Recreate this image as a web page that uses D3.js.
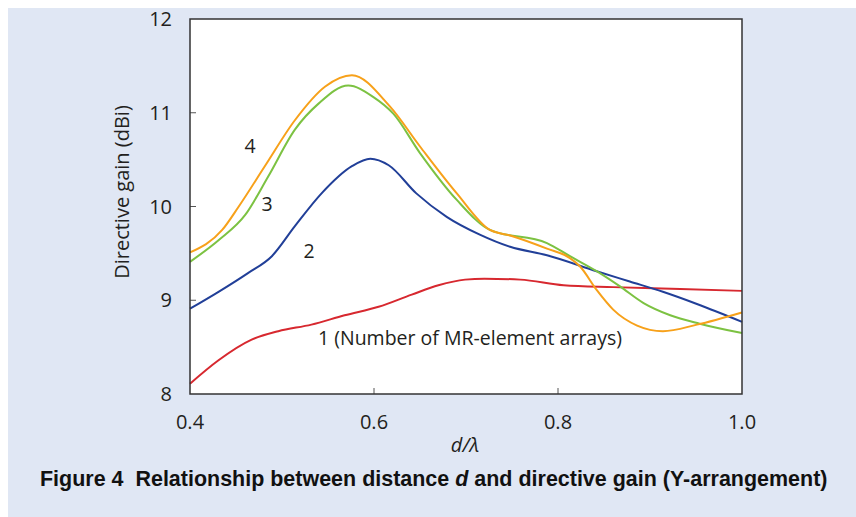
<!DOCTYPE html>
<meta charset="utf-8">
<head>
  <style>
    body { margin: 0; background: #ffffff; }
    .tick-label { font-family: "Open Sans", "Noto Sans", sans-serif; font-size: 20px; fill: #231f20; }
    .series-label { font-family: "Open Sans", "Noto Sans", sans-serif; font-size: 19.5px; fill: #231f20; }
    .caption { font-family: "Liberation Sans Narrow", "Liberation Sans", Arial; font-weight: bold; font-size: 22.5px; fill: #111; white-space: pre; }
  </style>
</head>
<script src="https://d3js.org/d3.v7.min.js"></script>
<div id="my_dataviz"></div>
<script>
const WIDTH = 856;
const HEIGHT = 517;

// values (d/lambda, dBi)
var dist1 = [0.4, 0.431, 0.467, 0.496, 0.532, 0.568, 0.605, 0.641, 0.67, 0.699, 0.72, 0.759, 0.806, 0.86, 0.933, 1.0];
var gain1 = [8.11, 8.36, 8.58, 8.67, 8.74, 8.84, 8.93, 9.06, 9.16, 9.22, 9.23, 9.22, 9.16, 9.14, 9.12, 9.10];

var dist2 = [0.4, 0.431, 0.463, 0.489, 0.514, 0.543, 0.576, 0.596, 0.616, 0.646, 0.679, 0.715, 0.748, 0.788, 0.842, 0.878, 0.914, 0.951, 1.0];
var gain2 = [8.91, 9.09, 9.29, 9.47, 9.79, 10.14, 10.43, 10.51, 10.44, 10.14, 9.89, 9.70, 9.57, 9.48, 9.31, 9.20, 9.09, 8.96, 8.77];

var dist3 = [0.4, 0.431, 0.46, 0.485, 0.514, 0.54, 0.572, 0.599, 0.621, 0.65, 0.69, 0.726, 0.788, 0.813, 0.842, 0.867, 0.893, 0.922, 0.954, 1.0];
var gain3 = [9.41, 9.64, 9.91, 10.32, 10.82, 11.10, 11.29, 11.17, 10.99, 10.57, 10.07, 9.75, 9.61, 9.47, 9.31, 9.15, 8.97, 8.84, 8.75, 8.65];

var dist4 = [0.4, 0.435, 0.453, 0.482, 0.514, 0.547, 0.576, 0.617, 0.65, 0.69, 0.726, 0.748, 0.788, 0.813, 0.824, 0.842, 0.86, 0.886, 0.914, 0.951, 1.0];
var gain4 = [9.51, 9.75, 10.00, 10.44, 10.92, 11.28, 11.40, 11.07, 10.64, 10.14, 9.75, 9.69, 9.55, 9.45, 9.36, 9.11, 8.90, 8.73, 8.67, 8.74, 8.87];

var seriesNames = ["1 (Number of MR-element arrays)", "2", "3", "4"];
var xTicks = [0.4, 0.6, 0.8, 1.0];
var yTicks = [8, 9, 10, 11, 12];

var series = [
  {name: seriesNames[0], dist: dist1, gain: gain1, color: "#d7282f", lx: 318, ly: 338, anchor: "start"},
  {name: seriesNames[1], dist: dist2, gain: gain2, color: "#213f98", lx: 309, ly: 251, anchor: "middle"},
  {name: seriesNames[2], dist: dist3, gain: gain3, color: "#7cc242", lx: 267, ly: 204, anchor: "middle"},
  {name: seriesNames[3], dist: dist4, gain: gain4, color: "#f7a11a", lx: 250, ly: 146, anchor: "middle"}
];

var svg = d3.select("#my_dataviz")
  .append("svg")
  .attr("width", WIDTH)
  .attr("height", HEIGHT);

// light blue panel
svg.append("rect")
  .attr("x", 8).attr("y", 8)
  .attr("width", WIDTH - 8).attr("height", HEIGHT - 8)
  .attr("fill", "#e0e7f4");

var x = d3.scaleLinear().domain([0.4, 1.0]).range([190, 742]);
var y = d3.scaleLinear().domain([8, 12]).range([394, 19]);

// plot area
svg.append("rect")
  .attr("x", x(0.4)).attr("y", y(12))
  .attr("width", x(1.0) - x(0.4)).attr("height", y(8) - y(12))
  .attr("fill", "white");

var line = d3.line()
  .x(d => x(d[0]))
  .y(d => y(d[1]))
  .curve(d3.curveMonotoneX);

svg.selectAll(".series")
  .data(series)
  .enter()
  .append("path")
  .attr("class", "series")
  .attr("d", s => line(d3.zip(s.dist, s.gain)))
  .attr("fill", "none")
  .attr("stroke", s => s.color)
  .attr("stroke-width", 2);

// inner ticks
svg.selectAll(".ytick")
  .data(yTicks.slice(1, -1))
  .enter()
  .append("line")
  .attr("x1", x(0.4)).attr("x2", x(0.4) + 6)
  .attr("y1", d => y(d)).attr("y2", d => y(d))
  .attr("stroke", "#555").attr("stroke-width", 1);

svg.selectAll(".xtick")
  .data(xTicks.slice(1, -1))
  .enter()
  .append("line")
  .attr("x1", d => x(d)).attr("x2", d => x(d))
  .attr("y1", y(8)).attr("y2", y(8) - 6)
  .attr("stroke", "#555").attr("stroke-width", 1);

// frame
svg.append("rect")
  .attr("x", x(0.4)).attr("y", y(12))
  .attr("width", x(1.0) - x(0.4)).attr("height", y(8) - y(12))
  .attr("fill", "none")
  .attr("stroke", "#333").attr("stroke-width", 1.5);

// tick labels
svg.selectAll(".ylab")
  .data(yTicks)
  .enter()
  .append("text")
  .attr("class", "tick-label")
  .attr("x", 172)
  .attr("y", d => y(d) + 7)
  .attr("text-anchor", "end")
  .text(d => d);

svg.selectAll(".xlab")
  .data(xTicks)
  .enter()
  .append("text")
  .attr("class", "tick-label")
  .attr("x", d => x(d))
  .attr("y", 429)
  .attr("text-anchor", "middle")
  .text(d => d.toFixed(1));

// axis titles
svg.append("text")
  .attr("class", "tick-label")
  .attr("transform", "translate(129, 192) rotate(-90)")
  .attr("text-anchor", "middle")
  .text("Directive gain (dBi)");

var xt = svg.append("text")
  .attr("class", "tick-label")
  .attr("x", 465).attr("y", 452)
  .attr("text-anchor", "middle")
  .attr("font-style", "italic");
xt.append("tspan").text("d");
xt.append("tspan").text("/λ");

// series labels
svg.selectAll(".slab")
  .data(series)
  .enter()
  .append("text")
  .attr("class", "series-label")
  .attr("x", s => s.lx)
  .attr("y", s => s.ly + 7)
  .attr("text-anchor", s => s.anchor)
  .text(s => s.name);

// caption: condensed by a horizontal scale to the reference width
var capG = svg.append("g");
var cap = capG.append("text")
  .attr("class", "caption")
  .attr("x", 0).attr("y", 0);
cap.append("tspan").text("Figure 4  Relationship between distance ");
cap.append("tspan").attr("font-style", "italic").text("d");
cap.append("tspan").text(" and directive gain (Y-arrangement)");
var capW = cap.node().getComputedTextLength();
capG.attr("transform", `translate(40, 486) scale(${788 / capW}, 1)`);
</script>
